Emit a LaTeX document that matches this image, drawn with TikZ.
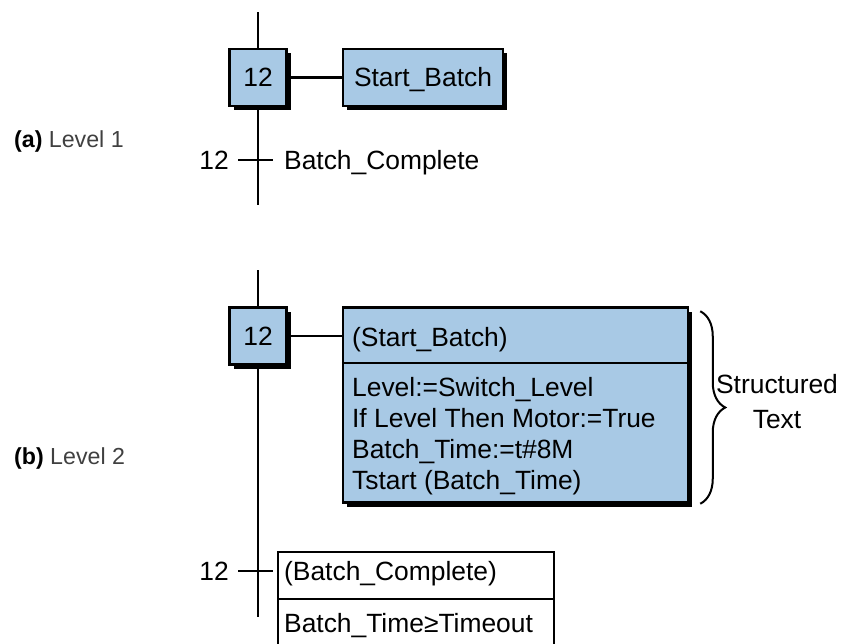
\documentclass[tikz,border=0pt]{standalone}
\usepackage{fontspec}
\setmainfont{Liberation Sans}
\usetikzlibrary{positioning,shadows,decorations.pathreplacing}
\definecolor{sfcblue}{RGB}{168,201,229}

\begin{document}
\begin{tikzpicture}[x=0.5pt,y=-0.5pt,line width=1.15pt,
  font=\fontsize{13.2}{15.5}\selectfont,
  stepbox/.style={draw,fill=sfcblue,line width=1.25pt,minimum width=28.5pt,minimum height=28.5pt,
    inner sep=0pt,text height=9.4pt,text depth=0pt,
    drop shadow={shadow xshift=2.2pt,shadow yshift=-2.2pt,fill=black,opacity=1}},
  actbox/.style={stepbox,minimum width=80pt},
  lbl/.style={inner sep=0pt},
  lvl/.style={inner sep=0pt,anchor=base west,font=\fontsize{11.6}{14}\selectfont}]
\useasboundingbox (0,0) rectangle (845,643);

% (a) level 1
\coordinate (top1) at (258,12);
\coordinate (bot1) at (258,205);
\draw (top1) -- (bot1);
\node[stepbox] (s1) at (258,77.5) {12};
\node[actbox,right=27pt of s1] (a1) {Start\_Batch};
\draw (s1) -- (a1);
\coordinate (tk1l) at (238,160);
\coordinate (tk1r) at (273,160);
\draw (tk1l) -- (tk1r);
\node[lbl,anchor=east] (t1) at (230,160) {12};
\node[lbl,anchor=base west] (c1) at (283,169) {Batch\_Complete};
\node[lvl] (la) at (13,147) {\textbf{(a)} \textcolor{black!75}{Level 1}};

% (b) level 2
\coordinate (top2) at (258,270);
\coordinate (bot2) at (258,617);
\draw (top2) -- (bot2);
\node[stepbox] (s2) at (258,336) {12};
\node[stepbox,minimum width=172.5pt,minimum height=97.5pt,right=27pt of s2.north east,anchor=north west] (a2) {};
\draw (s2) -- (s2 -| a2.west);
\coordinate (dv2) at (a2.west |- 0,363);
\draw[line width=1.25pt] (dv2) -- (dv2 -| a2.east);
\node[lbl,anchor=base west] (h2) at (351,346) {(Start\_Batch)};
\node[lbl,anchor=base west,align=left] (b2) at (351,489)
  {Level:=Switch\_Level\\If Level Then Motor:=True\\Batch\_Time:=t\#8M\\Tstart (Batch\_Time)};
\coordinate (brt) at ([xshift=5.5pt,yshift=-2.5pt]a2.north east);
\coordinate (brb) at ([xshift=5.5pt]a2.south east);
\draw[line width=1pt,decorate,decoration={brace,amplitude=12.5pt}] (brt) -- (brb);
\node[lbl,align=center] (st) at (777,402) {Structured\\[2pt]Text};

\coordinate (tk2l) at (238,571);
\coordinate (tk2r) at (273,571);
\draw (tk2l) -- (tk2r);
\node[lbl,anchor=east] (t2) at (230,571) {12};
\draw[line width=1pt] (278,650) -- (278,552) -- (554,552) -- (554,650);
\draw[line width=1pt] (278,599) -- (554,599);
\node[lbl,anchor=base west] (c2) at (283,580) {(Batch\_Complete)};
\node[lbl,anchor=base west] (e2) at (283,632) {Batch\_Time≥Timeout};
\node[lvl] (lb) at (13,464) {\textbf{(b)} \textcolor{black!75}{Level 2}};
\end{tikzpicture}
\end{document}
